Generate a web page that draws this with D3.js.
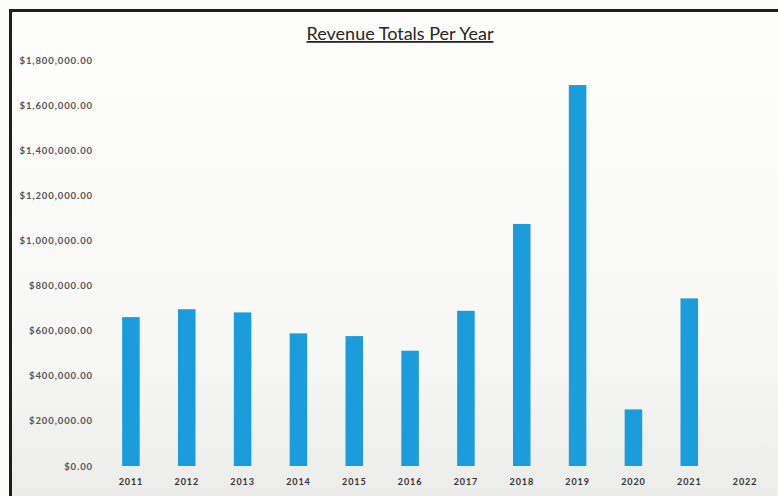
<!DOCTYPE html>
<html><head><meta charset="utf-8">
<script src="https://cdn.jsdelivr.net/npm/d3@7"></script>
<style>
html,body{margin:0;padding:0;background:#fbfbfa;}
svg{display:block;}
</style></head>
<body>
<script>
const title = "Revenue Totals Per Year";
const years = ["2011","2012","2013","2014","2015","2016","2017","2018","2019","2020","2021","2022"];
const revenue = [660000, 695000, 681000, 588000, 576000, 511000, 688000, 1073000, 1689000, 251000, 743000, 0];
const yTicks = [0, 200000, 400000, 600000, 800000, 1000000, 1200000, 1400000, 1600000, 1800000];

const W = 778, H = 496;
const svg = d3.select("body").append("svg").attr("width", W).attr("height", H);

const defs = svg.append("defs");
const g = defs.append("linearGradient").attr("id","bg").attr("x1",0).attr("y1",0).attr("x2",0).attr("y2",1);
g.append("stop").attr("offset","0%").attr("stop-color","#fdfdfc");
g.append("stop").attr("offset","70%").attr("stop-color","#f7f7f6");
g.append("stop").attr("offset","100%").attr("stop-color","#ececeb");

svg.append("rect").attr("x",0).attr("y",0).attr("width",W).attr("height",H).attr("fill","#fbfbfa");
svg.append("rect").attr("x",11).attr("y",11).attr("width",W-11).attr("height",H-11).attr("fill","url(#bg)");

// frame
svg.append("line").attr("x1",9).attr("x2",W).attr("y1",10.5).attr("y2",10.5).attr("stroke","#1e1e1e").attr("stroke-width",3);
svg.append("line").attr("x1",10.5).attr("x2",10.5).attr("y1",9).attr("y2",H).attr("stroke","#1e1e1e").attr("stroke-width",3);

const x = d3.scaleBand().domain(years).range([103, 773]).paddingInner(0.686).paddingOuter(0.343);
const y = d3.scaleLinear().domain([0, 1800000]).range([466, 60]);

// title
svg.append("text").attr("x", 400).attr("y", 40).attr("text-anchor","middle")
  .attr("font-family","Lato, 'Open Sans', sans-serif").attr("font-size",18).attr("fill","#262626")
  .attr("text-decoration","underline").text(title);

// y axis
const fmt = d3.format("$,.2f");
const yAxis = d3.axisLeft(y).tickValues(yTicks).tickFormat(fmt).tickSize(0).tickPadding(0);
const ya = svg.append("g").attr("transform","translate(93,0)").call(yAxis);
ya.select(".domain").remove();
ya.selectAll("text").attr("font-family","Lato, 'Open Sans', sans-serif").attr("font-size",9.5)
  .attr("letter-spacing","0.9px").attr("fill","#555").attr("font-weight","bold");

// bars
svg.append("g").selectAll("rect").data(years).join("rect")
  .attr("x", d => x(d)).attr("width", x.bandwidth())
  .attr("y", (d,i) => y(revenue[i])).attr("height", (d,i) => y(0) - y(revenue[i]))
  .attr("fill","#1b9cdb");

// x axis
const xAxis = d3.axisBottom(x).tickSize(0).tickPadding(0);
const xa = svg.append("g").attr("transform","translate(0,479)").call(xAxis);
xa.select(".domain").remove();
xa.selectAll("text").attr("font-family","Lato, 'Open Sans', sans-serif").attr("font-size",9)
  .attr("letter-spacing","0.9px").attr("fill","#333").attr("font-weight","bold");
</script>
</body></html>
